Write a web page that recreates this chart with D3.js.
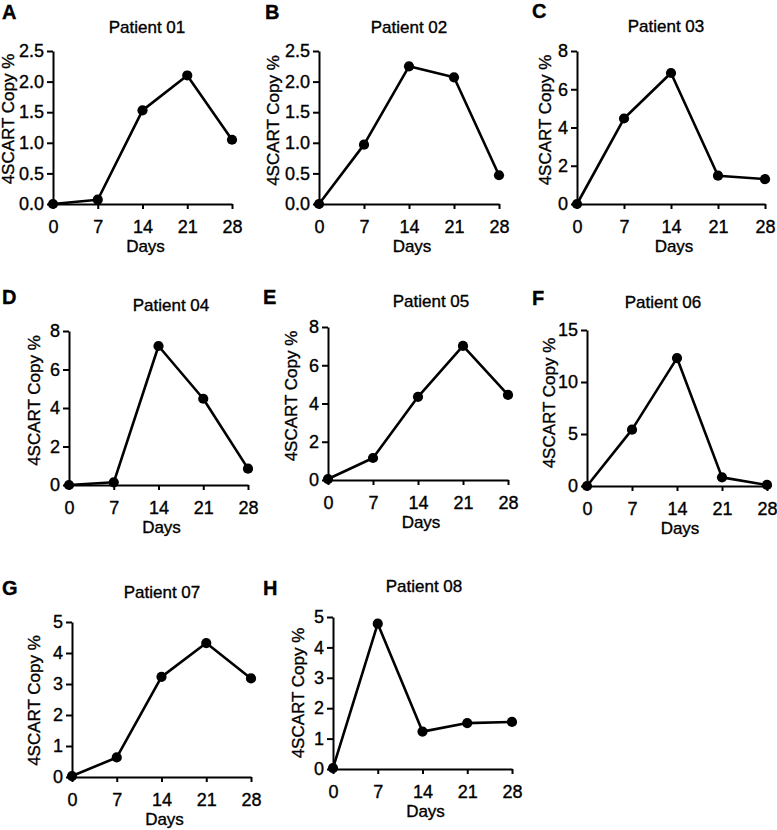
<!DOCTYPE html>
<html>
<head>
<meta charset="utf-8">
<script src="https://cdn.jsdelivr.net/npm/d3@7"></script>
<style>
  html, body { margin: 0; padding: 0; background: #fff; }
  svg { display: block; }
  text { font-family: "Liberation Sans", Arial, Helvetica, sans-serif; fill: #000; stroke: #000; stroke-width: 0.35px; }
</style>
</head>
<body>
<svg id="chart" width="777" height="830"></svg>
<script>
// ---------- data ----------
const days = [0, 7, 14, 21, 28];
const xTickLabels = ["0", "7", "14", "21", "28"];
const panelLetters = ["A", "B", "C", "D", "E", "F", "G", "H"];
const patientTitles = ["Patient 01", "Patient 02", "Patient 03", "Patient 04",
                       "Patient 05", "Patient 06", "Patient 07", "Patient 08"];
const yAxisTitle = "4SCART Copy %";
const xAxisTitle = "Days";

const patient01 = [0.00, 0.07, 1.53, 2.10, 1.05];
const patient02 = [0.00, 0.97, 2.25, 2.07, 0.47];
const patient03 = [0.00, 4.47, 6.85, 1.48, 1.30];
const patient04 = [0.00, 0.14, 7.22, 4.48, 0.85];
const patient05 = [0.05, 1.15, 4.35, 7.01, 4.45];
const patient06 = [0.00, 5.42, 12.30, 0.83, 0.10];
const patient07 = [0.03, 0.63, 3.23, 4.32, 3.18];
const patient08 = [0.03, 4.78, 1.23, 1.51, 1.55];
const series = [patient01, patient02, patient03, patient04,
                patient05, patient06, patient07, patient08];

const yMaxes = [2.5, 2.5, 8, 8, 8, 15, 5, 5];
const yTickValues = [
  [0, 0.5, 1.0, 1.5, 2.0, 2.5],
  [0, 0.5, 1.0, 1.5, 2.0, 2.5],
  [0, 2, 4, 6, 8],
  [0, 2, 4, 6, 8],
  [0, 2, 4, 6, 8],
  [0, 5, 10, 15],
  [0, 1, 2, 3, 4, 5],
  [0, 1, 2, 3, 4, 5]
];
const yTickFormats = [".1f", ".1f", "d", "d", "d", "d", "d", "d"];

// ---------- layout (positions only) ----------
const layout = [
  {l: 53,  r: 232, t: 51,  b: 204, tx: 147, ty: 32.5, lx: 2,   ly: 18.5, yx: 13.5, yy: 119},
  {l: 319, r: 499, t: 51,  b: 204, tx: 409, ty: 33,   lx: 265, ly: 18.5, yx: 279,  yy: 120.5},
  {l: 577, r: 765, t: 51,  b: 204, tx: 666, ty: 32,   lx: 532, ly: 17.5, yx: 551,  yy: 120},
  {l: 69,  r: 248, t: 331, b: 485, tx: 171, ty: 310.5, lx: 2,  ly: 304,  yx: 40,   yy: 400.5},
  {l: 328, r: 508, t: 327, b: 480, tx: 431, ty: 306.5, lx: 263, ly: 304, yx: 297,  yy: 396},
  {l: 587, r: 767, t: 330, b: 486, tx: 663, ty: 307.5, lx: 532, ly: 305, yx: 555,  yy: 403},
  {l: 72,  r: 251, t: 622, b: 777, tx: 162, ty: 597.5, lx: 2,  ly: 595,  yx: 40,   yy: 700.5},
  {l: 333, r: 512, t: 617, b: 769, tx: 424, ty: 592,  lx: 263, ly: 595,  yx: 304,  yy: 693}
];

const svg = d3.select("#chart");
const FONT = 17;
const TICKFONT = 18;

series.forEach((vals, i) => {
  const L = layout[i];
  const x = d3.scaleLinear().domain([0, 28]).range([L.l, L.r]);
  const y = d3.scaleLinear().domain([0, yMaxes[i]]).range([L.b, L.t]);
  const g = svg.append("g");

  // panel letter
  g.append("text")
    .attr("x", L.lx).attr("y", L.ly)
    .style("font-size", "20px").style("font-weight", "bold")
    .text(panelLetters[i]);

  // title
  g.append("text")
    .attr("x", L.tx).attr("y", L.ty)
    .attr("text-anchor", "middle")
    .style("font-size", FONT + "px")
    .text(patientTitles[i]);

  // x axis
  const xAxis = d3.axisBottom(x)
    .tickValues(days)
    .tickFormat((d, k) => xTickLabels[k])
    .tickSize(5).tickPadding(11).tickSizeOuter(0);
  const gx = g.append("g").attr("transform", `translate(0,${L.b})`).call(xAxis);
  gx.select(".domain").attr("stroke", "#000").attr("stroke-width", 2);
  gx.selectAll(".tick line").attr("stroke", "#000").attr("stroke-width", 2);
  gx.selectAll(".tick text").style("font-size", TICKFONT + "px")
    .style("font-family", "'Liberation Sans', Arial, sans-serif").attr("fill", "#000");

  // y axis
  const yAxis = d3.axisLeft(y)
    .tickValues(yTickValues[i])
    .tickFormat(d3.format(yTickFormats[i]))
    .tickSize(6).tickPadding(3).tickSizeOuter(0);
  const gy = g.append("g").attr("transform", `translate(${L.l},0)`).call(yAxis);
  gy.select(".domain").attr("stroke", "#000").attr("stroke-width", 2);
  gy.selectAll(".tick line").attr("stroke", "#000").attr("stroke-width", 2);
  gy.selectAll(".tick text").style("font-size", TICKFONT + "px")
    .style("font-family", "'Liberation Sans', Arial, sans-serif").attr("fill", "#000");

  // axis titles
  g.append("text")
    .attr("x", (L.l + L.r) / 2 + 3).attr("y", L.b + 48)
    .attr("text-anchor", "middle")
    .style("font-size", FONT + "px")
    .text(xAxisTitle);
  g.append("text")
    .attr("transform", `translate(${L.yx},${L.yy}) rotate(-90)`)
    .attr("text-anchor", "middle")
    .style("font-size", FONT + "px")
    .text(yAxisTitle);

  // line + points
  const pts = days.map((d, k) => ({d, v: vals[k]}));
  g.append("path")
    .datum(pts)
    .attr("fill", "none").attr("stroke", "#000").attr("stroke-width", 2.6)
    .attr("stroke-linejoin", "round")
    .attr("d", d3.line().x(p => x(p.d)).y(p => y(p.v)));
  g.selectAll("circle.pt").data(pts).enter().append("circle")
    .attr("class", "pt")
    .attr("cx", p => x(p.d)).attr("cy", p => y(p.v))
    .attr("r", 5.1).attr("fill", "#000");
});
</script>
</body>
</html>
